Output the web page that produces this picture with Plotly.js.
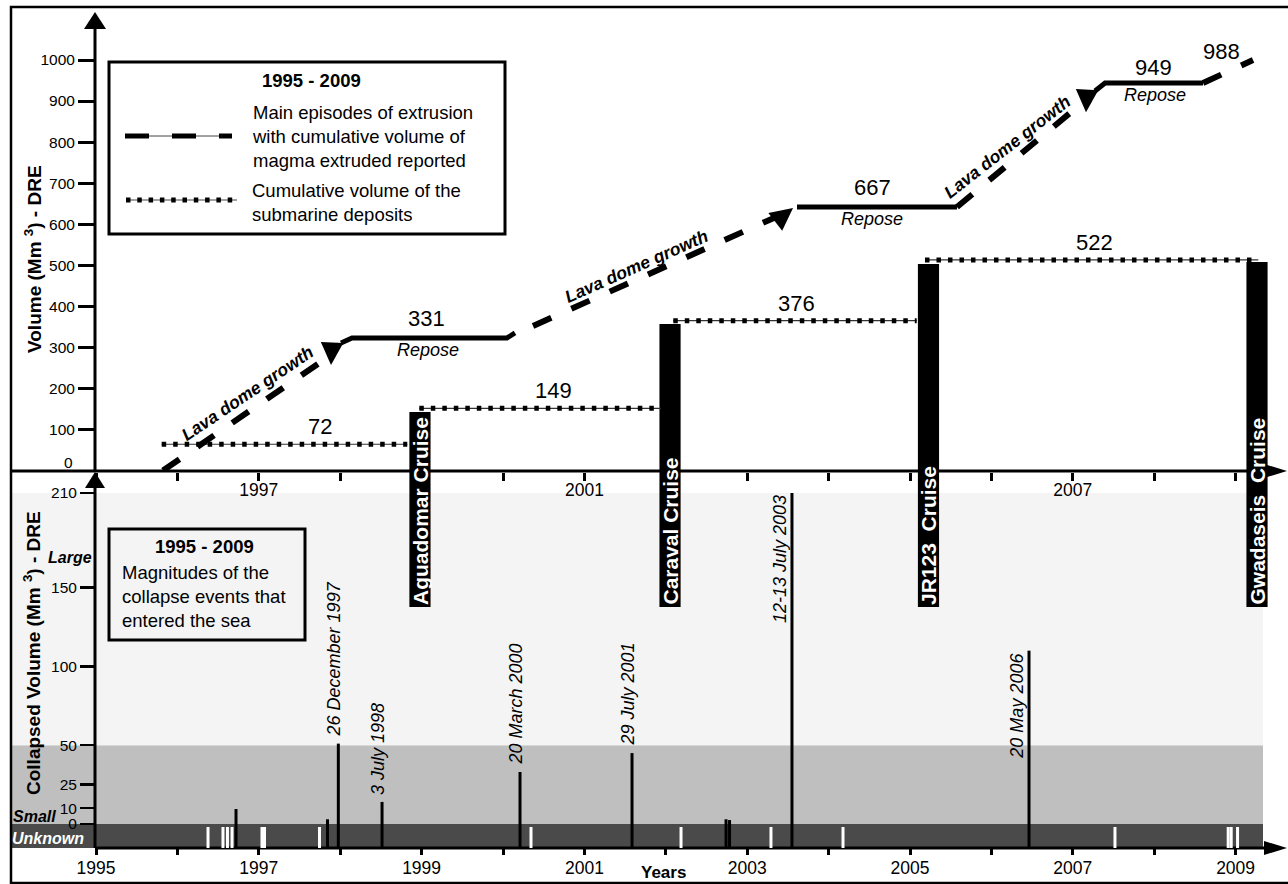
<!DOCTYPE html>
<html>
<head>
<meta charset="utf-8">
<script src="https://cdn.plot.ly/plotly-3.0.1.min.js"></script>
<style>
html,body{margin:0;padding:0;background:#fff;}
#chart{width:1288px;height:884px;}
</style>
</head>
<body>
<div id="chart"></div>
<script>
// ================= DATA =================
const yearTicks = [1995,1996,1997,1998,1999,2000,2001,2002,2003,2004,2005,2006,2007,2008,2009];
const bottomYearLabels = ['1995','','1997','','1999','','2001','','2003','','2005','','2007','','2009'];
const topYearLabels = ['','','1997','','','','2001','','','','','','2007','',''];
const volumeTicks = [100,200,300,400,500,600,700,800,900,1000];
const collapseTicks = [0,10,25,50,100,150,210];

// cumulative volume of the submarine deposits (dotted steps)
const depositStartYears = [1995.807, 1998.972, 2002.092, 2005.184];
const depositEndYears   = [1998.824, 2001.943, 2005.082, 2009.279];
const depositVolumes    = [64, 151.5, 365, 513];
const depositLabels     = ['72', '149', '376', '522'];

// main episodes of extrusion (cumulative magma volume)
const extrusionYears   = [1995.823, 1997.850, 1998.010, 1998.145, 2000.049, 2000.147, 2000.369, 2003.464, 2003.612, 2005.577, 2007.113, 2007.273, 2007.396, 2008.600, 2009.214];
const extrusionVolumes = [0, 276.5, 310.6, 322.8, 322.8, 335, 352, 627.3, 641.9, 641.9, 895.2, 924.5, 944, 944, 1000];
const extrusionSegments = ['dash','gap','solid','repose','solid','gap','dash','gap','repose','dash','gap','solid','repose','dash'];
const reposeLabels = ['331', '667', '949'];
const finalExtrusionLabel = '988';

// cruises
const cruiseNames = ['Aguadomar Cruise', 'Caraval Cruise', 'JR123\u00a0\u00a0Cruise', 'Gwadaseis\u00a0\u00a0Cruise'];
const cruiseYears = [1998.980, 2002.052, 2005.227, 2009.263];
const cruiseTopVolumes = [142.5, 357, 503, 508];

// collapse events that entered the sea
const collapseYears   = [1996.720, 1997.844, 1997.977, 1998.514, 2000.209, 2001.585, 2002.740, 2002.783, 2003.550, 2006.462];
const collapseVolumes = [9.5, 3, 51, 14, 33, 45, 3, 2.5, 210, 110];
const collapseDates   = ['', '', '26 December 1997', '3 July 1998', '20 March 2000', '29 July 2001', '', '', '12-13 July 2003', '20 May 2006'];
const unknownYears = [1996.376, 1996.560, 1996.615, 1996.671, 1997.039, 1997.070, 1997.746, 2000.344, 2002.187, 2003.292, 2004.177, 2007.518, 2008.909, 2008.946, 2009.024];

// ================= GEOMETRY / STYLE =================
const W = 1288, H = 884;
const X = p => p / W;
const Y = p => 1 - p / H;
const X_PX0 = 96, X_PX_PER_YEAR = 81.4;
const xRange = [1995 - X_PX0 / X_PX_PER_YEAR, 1995 + (W - X_PX0) / X_PX_PER_YEAR];
const UP_ZERO = 470.5, UP_PX = 0.4105;
const LO_ZERO = 824, LO_PX = 1.576;
const SPLIT = 472;
const upRange = [(UP_ZERO - SPLIT) / UP_PX, (UP_ZERO - 7) / UP_PX];
const loRange = [(LO_ZERO - 848) / LO_PX, (LO_ZERO - SPLIT) / LO_PX];
const CRUISE_BOTTOM = (LO_ZERO - 607) / LO_PX; // bottom of the cruise bars in the lower panel
const FONT = 'Liberation Sans, Arial, Helvetica, sans-serif';

// ---- build traces ----
const depX = [], depY = [];
depositStartYears.forEach((s, i) => {
  depX.push(s, depositEndYears[i], null);
  depY.push(depositVolumes[i], depositVolumes[i], null);
});

const dashX = [], dashY = [], solidX = [], solidY = [];
let prevKind = null;
extrusionSegments.forEach((k, i) => {
  const kind = (k === 'repose') ? 'solid' : k;
  if (kind === 'gap') { prevKind = kind; return; }
  const ax = kind === 'dash' ? dashX : solidX;
  const ay = kind === 'dash' ? dashY : solidY;
  if (prevKind === kind && kind === 'solid') {
    ax.push(extrusionYears[i + 1]); ay.push(extrusionVolumes[i + 1]);
  } else {
    if (ax.length) { ax.push(null); ay.push(null); }
    ax.push(extrusionYears[i], extrusionYears[i + 1]);
    ay.push(extrusionVolumes[i], extrusionVolumes[i + 1]);
  }
  prevKind = kind;
});

const colX = [], colY = [];
collapseYears.forEach((yr, i) => { colX.push(yr, yr, null); colY.push(-30, collapseVolumes[i], null); });
const unkX = [], unkY = [];
unknownYears.forEach(yr => { unkX.push(yr, yr, null); unkY.push(-30, -1.9, null); });

const traces = [
  {type: 'scatter', mode: 'lines', x: depX, y: depY, xaxis: 'x2', yaxis: 'y',
   line: {color: '#333', width: 1.2}, hoverinfo: 'skip'},
  {type: 'scatter', mode: 'lines', x: depX, y: depY, xaxis: 'x2', yaxis: 'y',
   line: {color: '#000', width: 5, dash: '4.5px,7px'}, hoverinfo: 'skip'},
  {type: 'scatter', mode: 'lines', x: dashX, y: dashY, xaxis: 'x2', yaxis: 'y',
   line: {color: '#000', width: 6, dash: '20px,22px'}, hoverinfo: 'skip'},
  {type: 'scatter', mode: 'lines', x: solidX, y: solidY, xaxis: 'x2', yaxis: 'y',
   line: {color: '#000', width: 5}, hoverinfo: 'skip'},
  {type: 'bar', x: cruiseYears, y: cruiseTopVolumes.map(v => v + 50), base: -50, width: 0.26,
   xaxis: 'x2', yaxis: 'y', marker: {color: '#000', line: {width: 0}}, hoverinfo: 'skip'},
  {type: 'bar', x: cruiseYears, y: cruiseYears.map(() => 300), base: CRUISE_BOTTOM, width: 0.26,
   xaxis: 'x', yaxis: 'y2', marker: {color: '#000', line: {width: 0}}, hoverinfo: 'skip'},
  {type: 'scatter', mode: 'lines', x: colX, y: colY, xaxis: 'x', yaxis: 'y2',
   line: {color: '#000', width: 3}, hoverinfo: 'skip'},
  {type: 'scatter', mode: 'lines', x: unkX, y: unkY, xaxis: 'x', yaxis: 'y2',
   line: {color: '#fff', width: 3}, hoverinfo: 'skip'}
];

// ---- shapes ----
const blk = {color: '#000', width: 3};
const shapes = [
  // collapse magnitude bands
  {type: 'rect', xref: 'paper', yref: 'y2', x0: X(11), x1: X(1263), y0: -40, y1: 0, fillcolor: '#4a4a4a', line: {width: 0}, layer: 'below'},
  {type: 'rect', xref: 'paper', yref: 'y2', x0: X(11), x1: X(1263), y0: 0, y1: 50, fillcolor: '#bfbfbf', line: {width: 0}, layer: 'below'},
  {type: 'rect', xref: 'paper', yref: 'y2', x0: X(11), x1: X(1263), y0: 50, y1: 210, fillcolor: '#f4f4f4', line: {width: 0}, layer: 'below'},
  // axis lines
  {type: 'line', xref: 'paper', yref: 'paper', x0: X(11), x1: X(1272), y0: Y(471), y1: Y(471), line: blk, layer: 'below'},
  {type: 'line', xref: 'paper', yref: 'paper', x0: X(95), x1: X(1272), y0: Y(848), y1: Y(848), line: blk, layer: 'below'},
  {type: 'line', xref: 'paper', yref: 'paper', x0: X(95), x1: X(95), y0: Y(471), y1: Y(26), line: blk, layer: 'below'},
  {type: 'line', xref: 'paper', yref: 'paper', x0: X(95), x1: X(95), y0: Y(848), y1: Y(486), line: blk, layer: 'below'},
  // arrows
  {type: 'path', xref: 'paper', yref: 'paper', layer: 'below', fillcolor: '#000', line: {width: 0},
   path: `M${X(1264)},${Y(464)} L${X(1287)},${Y(471)} L${X(1264)},${Y(478)} Z`},
  {type: 'path', xref: 'paper', yref: 'paper', layer: 'below', fillcolor: '#000', line: {width: 0},
   path: `M${X(1264)},${Y(841)} L${X(1287)},${Y(848)} L${X(1264)},${Y(855)} Z`},
  {type: 'path', xref: 'paper', yref: 'paper', layer: 'below', fillcolor: '#000', line: {width: 0},
   path: `M${X(84)},${Y(29)} L${X(95)},${Y(12)} L${X(106)},${Y(29)} Z`},
  {type: 'path', xref: 'paper', yref: 'paper', layer: 'below', fillcolor: '#000', line: {width: 0},
   path: `M${X(85)},${Y(488)} L${X(95)},${Y(472)} L${X(105)},${Y(488)} Z`},
  // frame
  {type: 'rect', xref: 'paper', yref: 'paper', x0: X(11), x1: X(1292), y0: Y(883), y1: Y(7), line: {color: '#000', width: 2.5}, layer: 'above'},
  // upper legend box
  {type: 'rect', xref: 'paper', yref: 'paper', x0: X(109), x1: X(505), y0: Y(234), y1: Y(62), line: {color: '#000', width: 3}, layer: 'above'},
  {type: 'line', xref: 'paper', yref: 'paper', x0: X(125), x1: X(232), y0: Y(136), y1: Y(136), line: {color: '#444', width: 1}, layer: 'above'},
  {type: 'line', xref: 'paper', yref: 'paper', x0: X(125), x1: X(232), y0: Y(136), y1: Y(136), line: {color: '#000', width: 5, dash: '24px,23px'}, layer: 'above'},
  {type: 'line', xref: 'paper', yref: 'paper', x0: X(126), x1: X(237), y0: Y(200), y1: Y(200), line: {color: '#444', width: 1}, layer: 'above'},
  {type: 'line', xref: 'paper', yref: 'paper', x0: X(126), x1: X(237), y0: Y(200), y1: Y(200), line: {color: '#000', width: 5, dash: '4.5px,6.8px'}, layer: 'above'},
  // lower legend box
  {type: 'rect', xref: 'paper', yref: 'paper', x0: X(109), x1: X(305), y0: Y(640), y1: Y(529), line: {color: '#000', width: 3}, layer: 'above'}
];

// ---- annotations ----
const ann = [];
const txt = (o) => Object.assign({showarrow: false, xanchor: 'center', yanchor: 'middle',
  font: {family: FONT, size: 18.5, color: '#000'}}, o);
// legends
ann.push(txt({xref: 'paper', yref: 'paper', x: X(311), y: Y(80), text: '<b>1995 - 2009</b>'}));
ann.push(txt({xref: 'paper', yref: 'paper', x: X(250), y: Y(136), xanchor: 'left', align: 'left',
  text: 'Main episodes of extrusion<br>with cumulative volume of<br>magma extruded reported'}));
ann.push(txt({xref: 'paper', yref: 'paper', x: X(250), y: Y(203), xanchor: 'left', align: 'left',
  text: 'Cumulative volume of the<br>submarine deposits'}));
ann.push(txt({xref: 'paper', yref: 'paper', x: X(204), y: Y(546), text: '<b>1995 - 2009</b>'}));
ann.push(txt({xref: 'paper', yref: 'paper', x: X(120), y: Y(596), xanchor: 'left', align: 'left',
  text: 'Magnitudes of the<br>collapse events that<br>entered the sea'}));
// axis titles
ann.push(txt({xref: 'paper', yref: 'paper', x: X(33), y: Y(259), textangle: -90, text: '<b>Volume (Mm <sup>3</sup>) - DRE</b>', font: {family: FONT, size: 19, color: '#000'}}));
ann.push(txt({xref: 'paper', yref: 'paper', x: X(32), y: Y(653), textangle: -90, text: '<b>Collapsed Volume (Mm <sup>3</sup>) - DRE</b>', font: {family: FONT, size: 19, color: '#000'}}));
ann.push(txt({xref: 'paper', yref: 'paper', x: X(663), y: Y(872), text: '<b>Years</b>', font: {family: FONT, size: 17, color: '#000'}}));
ann.push(txt({xref: 'paper', yref: 'paper', x: X(75), y: Y(462), xanchor: 'right', text: '0', font: {family: FONT, size: 15.5, color: '#000'}}));
// band labels
ann.push(txt({xref: 'paper', yref: 'paper', x: X(70), y: Y(557), text: '<b><i>Large</i></b>', font: {family: FONT, size: 16, color: '#000'}}));
ann.push(txt({xref: 'paper', yref: 'paper', x: X(34), y: Y(816), text: '<b><i>Small</i></b>', font: {family: FONT, size: 16, color: '#000'}}));
ann.push(txt({xref: 'paper', yref: 'paper', x: X(48), y: Y(838), text: '<b><i>Unknown</i></b>', font: {family: FONT, size: 16, color: '#fff'}}));

// deposit value labels
const depositLabelNudge = [36, 13, 2, 3];
depositLabels.forEach((t, i) => {
  ann.push(txt({xref: 'x2', yref: 'y', x: (depositStartYears[i] + depositEndYears[i]) / 2, y: depositVolumes[i],
    yanchor: 'bottom', yshift: 3, xshift: depositLabelNudge[i], text: t, font: {family: FONT, size: 22, color: '#000'}}));
});
// repose labels
const reposeNudge = [-3, -4, -1];
const reposeTextNudge = [-2, -5, 1];
const reposeYShift = [5, 5, 1];
let r = 0;
extrusionSegments.forEach((k, i) => {
  if (k !== 'repose') return;
  const mx = (extrusionYears[i] + extrusionYears[i + 1]) / 2, v = extrusionVolumes[i];
  ann.push(txt({xref: 'x2', yref: 'y', x: mx, y: v, yanchor: 'bottom', yshift: reposeYShift[r], xshift: reposeNudge[r],
    text: reposeLabels[r], font: {family: FONT, size: 22, color: '#000'}}));
  ann.push(txt({xref: 'x2', yref: 'y', x: mx, y: v, yanchor: 'middle', yshift: -12, xshift: reposeTextNudge[r],
    text: '<i>Repose</i>', font: {family: FONT, size: 18, color: '#000'}}));
  r++;
});
const lastI = extrusionYears.length - 1;
ann.push(txt({xref: 'x2', yref: 'y', x: extrusionYears[lastI], y: extrusionVolumes[lastI], xanchor: 'right', yanchor: 'bottom',
  xshift: -11, yshift: -6, text: finalExtrusionLabel, font: {family: FONT, size: 22, color: '#000'}}));

// lava dome growth labels
const growthLabels = [
  {x: 1996.867, y: 188.8, a: -34},
  {x: 2001.646, y: 498.2, a: -24},
  {x: 2006.192, y: 788, a: -38}
];
growthLabels.forEach(g => ann.push(txt({xref: 'x2', yref: 'y', x: g.x, y: g.y, textangle: g.a,
  text: '<b><i>Lava dome growth</i></b>', font: {family: FONT, size: 17.5, color: '#000'}})));

// arrow heads of the growth episodes
const arrowHeads = [
  {x: 1997.887, y: 257, ax: 1, ay: -21},
  {x: 2003.563, y: 639.5, ax: -18, ay: 14},
  {x: 2007.162, y: 873, ax: 1, ay: -21}
];
arrowHeads.forEach(a => ann.push({xref: 'x2', yref: 'y', x: a.x, y: a.y, ax: a.ax, ay: a.ay, text: ' ',
  font: {size: 1}, showarrow: true, arrowhead: 2, arrowwidth: 3, arrowsize: 1.5, arrowcolor: '#000', standoff: 0, startstandoff: 0}));

// cruise names
cruiseNames.forEach((n, i) => ann.push(txt({xref: 'x', yref: 'y2', x: cruiseYears[i], y: CRUISE_BOTTOM, yanchor: 'bottom',
  textangle: -90, text: '<b>' + n + '</b>', font: {family: FONT, size: 21, color: '#fff'}})));

// collapse dates
collapseDates.forEach((d, i) => {
  if (!d) return;
  const beside = collapseVolumes[i] > 100;
  ann.push(txt({xref: 'x', yref: 'y2', x: collapseYears[i], y: collapseVolumes[i], textangle: -90,
    xshift: beside ? -12 : -4, yshift: beside ? 0 : 5, yanchor: beside ? 'top' : 'bottom',
    text: '<i>' + d + '</i>', font: {family: FONT, size: 18, color: '#000'}}));
});

// ---- layout ----
const xCommon = {domain: [0, 1], range: xRange, tickvals: yearTicks, ticks: 'outside', tickwidth: 3, tickcolor: '#000',
  showgrid: false, zeroline: false, showline: false, tickfont: {family: FONT, size: 17.5, color: '#000'}, fixedrange: true};
const layout = {
  width: W, height: H, margin: {l: 0, r: 0, t: 0, b: 0}, autosize: false,
  paper_bgcolor: '#fff', plot_bgcolor: 'rgba(0,0,0,0)', showlegend: false,
  font: {family: FONT, color: '#000'},
  xaxis: Object.assign({}, xCommon, {anchor: 'y2', ticktext: bottomYearLabels, ticklen: 6, ticklabelstandoff: -2}),
  xaxis2: Object.assign({}, xCommon, {anchor: 'y', ticktext: topYearLabels, ticklen: 8, ticklabelstandoff: -6}),
  yaxis: {domain: [Y(SPLIT), Y(7)], range: upRange, anchor: 'free', position: X(95), tickvals: volumeTicks,
    ticks: 'outside', ticklen: 17, tickwidth: 3, tickcolor: '#000', showgrid: false, zeroline: false, showline: false,
    tickfont: {family: FONT, size: 15.5, color: '#000'}, fixedrange: true},
  yaxis2: {domain: [Y(848), Y(SPLIT)], range: loRange, anchor: 'free', position: X(95), tickvals: collapseTicks,
    ticks: 'outside', ticklen: 15, tickwidth: 2.5, tickcolor: '#000', showgrid: false, zeroline: false, showline: false,
    tickfont: {family: FONT, size: 15.5, color: '#000'}, fixedrange: true},
  shapes: shapes,
  annotations: ann
};

Plotly.newPlot('chart', traces, layout, {staticPlot: true, displayModeBar: false});
</script>
</body>
</html>
